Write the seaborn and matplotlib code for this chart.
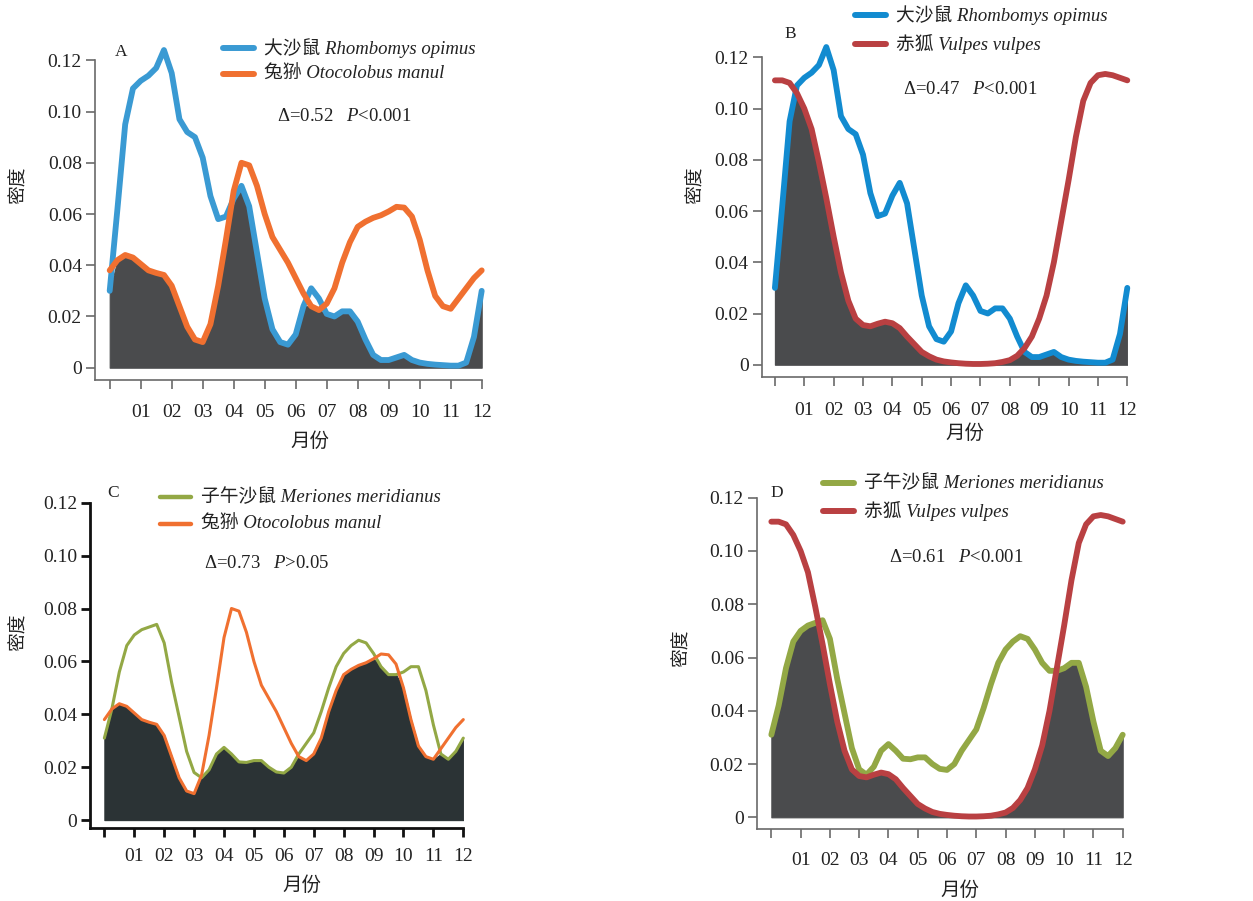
import numpy as np
import pandas as pd
import matplotlib
matplotlib.use("Agg")
import matplotlib.pyplot as plt
import seaborn as sns

W, H = 1253, 901

# sample positions along the month axis (0 = start of January, 12 = end of December)
t = np.arange(0, 12.01, 0.25)

rhombomys = [0.030, 0.062, 0.095, 0.109, 0.112, 0.114, 0.117, 0.124, 0.115, 0.097,
             0.092, 0.090, 0.082, 0.067, 0.058, 0.059, 0.066, 0.071, 0.063, 0.045,
             0.027, 0.015, 0.010, 0.009, 0.013, 0.024, 0.031, 0.027, 0.021, 0.020,
             0.022, 0.022, 0.018, 0.011, 0.005, 0.003, 0.003, 0.004, 0.005, 0.003,
             0.002, 0.0015, 0.0012, 0.001, 0.0008, 0.0008, 0.002, 0.012, 0.030]

otocolobus = [0.038, 0.042, 0.044, 0.043, 0.0405, 0.038, 0.037, 0.0362, 0.032, 0.024,
              0.016, 0.011, 0.010, 0.017, 0.032, 0.050, 0.069, 0.080, 0.079, 0.071,
              0.060, 0.051, 0.046, 0.041, 0.035, 0.029, 0.024, 0.0225, 0.025, 0.031,
              0.041, 0.049, 0.055, 0.057, 0.0585, 0.0595, 0.061, 0.0628, 0.0625, 0.059,
              0.050, 0.038, 0.028, 0.024, 0.023, 0.027, 0.031, 0.035, 0.038]

vulpes = [0.111, 0.111, 0.110, 0.106, 0.100, 0.092, 0.079, 0.065, 0.050, 0.036,
          0.025, 0.018, 0.0155, 0.015, 0.016, 0.0168, 0.0162, 0.0143, 0.011, 0.008,
          0.005, 0.0033, 0.002, 0.0013, 0.0009, 0.0006, 0.0004, 0.0003, 0.0003, 0.0004,
          0.0006, 0.0011, 0.0018, 0.0035, 0.0065, 0.011, 0.018, 0.027, 0.040, 0.056,
          0.072, 0.089, 0.103, 0.110, 0.113, 0.1135, 0.113, 0.112, 0.111]

meriones = [0.031, 0.042, 0.056, 0.066, 0.070, 0.072, 0.073, 0.074, 0.067, 0.052,
            0.039, 0.026, 0.018, 0.016, 0.019, 0.025, 0.0275, 0.025, 0.022, 0.0218,
            0.0225, 0.0225, 0.020, 0.0182, 0.0178, 0.020, 0.025, 0.029, 0.033, 0.041,
            0.050, 0.058, 0.063, 0.066, 0.068, 0.067, 0.063, 0.058, 0.055, 0.055,
            0.056, 0.058, 0.058, 0.049, 0.036, 0.025, 0.023, 0.026, 0.031]

month_labels = ["", "01", "02", "03", "04", "05", "06", "07", "08", "09", "10", "11", "12"]
y_ticks = [0, 0.02, 0.04, 0.06, 0.08, 0.10, 0.12]
y_labels = ["0", "0.02", "0.04", "0.06", "0.08", "0.10", "0.12"]

names = {
    "rh": "大沙鼠 Rhombomys opimus",
    "ot": "兔狲 Otocolobus manul",
    "vu": "赤狐 Vulpes vulpes",
    "me": "子午沙鼠 Meriones meridianus",
}
series = {"rh": rhombomys, "ot": otocolobus, "vu": vulpes, "me": meriones}

sns.set_theme(style="ticks")
plt.rcParams["font.family"] = ["Liberation Serif", "Noto Sans CJK SC"]
plt.rcParams["mathtext.fontset"] = "custom"
plt.rcParams["mathtext.rm"] = "Liberation Serif"
plt.rcParams["mathtext.it"] = "Liberation Serif:italic"

CJK = ["Noto Sans CJK SC"]
LEG = ["Liberation Serif", "Noto Sans CJK SC"]

fig = plt.figure(figsize=(W / 100, H / 100), dpi=100)


def px_axes(left, right, top, bottom):
    return fig.add_axes([left / W, 1 - bottom / H, (right - left) / W, (bottom - top) / H])


def panel(box, xoff, yoff, k1, k2, c1, c2, lw, fillc, spc, splw, pad,
          letter, letter_xy, leg_xy, leg_sp, delta, delta_xy, ylab_xy, xlab_xy):
    ax = px_axes(*box)
    a = np.array(series[k1])
    b = np.array(series[k2])
    ax.fill_between(t, 0, np.minimum(a, b), color=fillc, linewidth=0.8,
                    edgecolor=fillc, zorder=1)
    df = pd.DataFrame({"month": np.concatenate([t, t]),
                       "density": np.concatenate([a, b]),
                       "sp": [names[k1]] * len(t) + [names[k2]] * len(t)})
    sns.lineplot(data=df, x="month", y="density", hue="sp",
                 palette={names[k1]: c1, names[k2]: c2}, linewidth=lw,
                 ax=ax, legend=False, clip_on=False, zorder=3,
                 solid_capstyle="round", solid_joinstyle="round")
    ax.set_xlim(-xoff, 12)
    ax.set_ylim(-yoff, 0.12)
    ax.set_xticks(range(13))
    ax.set_xticklabels(month_labels)
    ax.set_yticks(y_ticks)
    ax.set_yticklabels(y_labels)
    ax.set_xlabel("")
    ax.set_ylabel("")
    sns.despine(ax=ax)
    for s in ["left", "bottom"]:
        ax.spines[s].set_color(spc)
        ax.spines[s].set_linewidth(splw)
    ax.tick_params(axis="x", length=6.5, width=splw, color=spc, pad=pad, labelsize=14)
    ax.tick_params(axis="y", length=6.5, width=splw, color=spc, pad=3, labelsize=14)
    for lab in ax.get_xticklabels() + ax.get_yticklabels():
        lab.set_color("#222222")

    fig.text(letter_xy[0] / W, 1 - letter_xy[1] / H, letter, fontsize=12.5,
             ha="center", va="center", color="#222222")
    # legend drawn by hand: handle segment + label
    lx, ly = leg_xy
    for i, (k, c) in enumerate([(k1, c1), (k2, c2)]):
        yy = ly + i * leg_sp
        fig.add_artist(plt.Line2D([lx / W, (lx + 31) / W], [1 - yy / H, 1 - yy / H],
                                  color=c, linewidth=4.3 if lw > 3 else 3.2,
                                  solid_capstyle="round", transform=fig.transFigure))
        fig.text((lx + 41) / W, 1 - yy / H, names[k], family=LEG, style="italic",
                 fontsize=13.5, ha="left", va="center", color="#222222")
    fig.text(delta_xy[0] / W, 1 - delta_xy[1] / H, delta, fontsize=13.5,
             ha="left", va="center", color="#222222")
    fig.text(ylab_xy[0] / W, 1 - ylab_xy[1] / H, "密度", family=CJK, fontsize=13.5,
             rotation=90, ha="center", va="center", color="#222222")
    fig.text(xlab_xy[0] / W, 1 - xlab_xy[1] / H, "月份", family=CJK, fontsize=14,
             ha="center", va="center", color="#222222")
    return ax


BLUE_A = "#3a9ad3"
BLUE_B = "#128bd0"
ORANGE = "#f07030"
RED = "#b94042"
GREEN = "#93a845"
GRAY_FILL = "#4a4b4d"
DARK_FILL = "#2b3335"

panel((95, 481.7, 60.3, 380), 0.474, 0.0048, "rh", "ot", BLUE_A, ORANGE, 4.2,
      GRAY_FILL, "#6a6a6a", 1.2, 11, "A", (120.7, 51.7), (223, 47.7), 26.3,
      r"$\Delta$=0.52   $P$<0.001", (277, 116.7), (18, 185), (310, 441.7))

panel((761.7, 1127.3, 57.3, 377.3), 0.45, 0.0049, "rh", "vu", BLUE_B, RED, 4.2,
      GRAY_FILL, "#6a6a6a", 1.2, 11, "B", (790.7, 34.3), (855, 15), 29.3,
      r"$\Delta$=0.47   $P$<0.001", (903, 89), (695, 185), (965, 433))

panel((90.3, 463.3, 502.7, 828.3), 0.47, 0.0031, "me", "ot", GREEN, ORANGE, 2.2,
      DARK_FILL, "#111111", 2.0, 8, "C", (113, 493), (160, 497.3), 27,
      r"$\Delta$=0.73   $P$>0.05", (204, 564), (18, 632), (302, 885))

panel((757, 1122.7, 497.7, 829.3), 0.49, 0.0045, "me", "vu", GREEN, RED, 4.2,
      GRAY_FILL, "#6a6a6a", 1.2, 10, "D", (776.7, 493), (822.7, 483.3), 27.4,
      r"$\Delta$=0.61   $P$<0.001", (889, 557.7), (681.7, 648), (960, 890))

fig.savefig("out.png", dpi=100)
